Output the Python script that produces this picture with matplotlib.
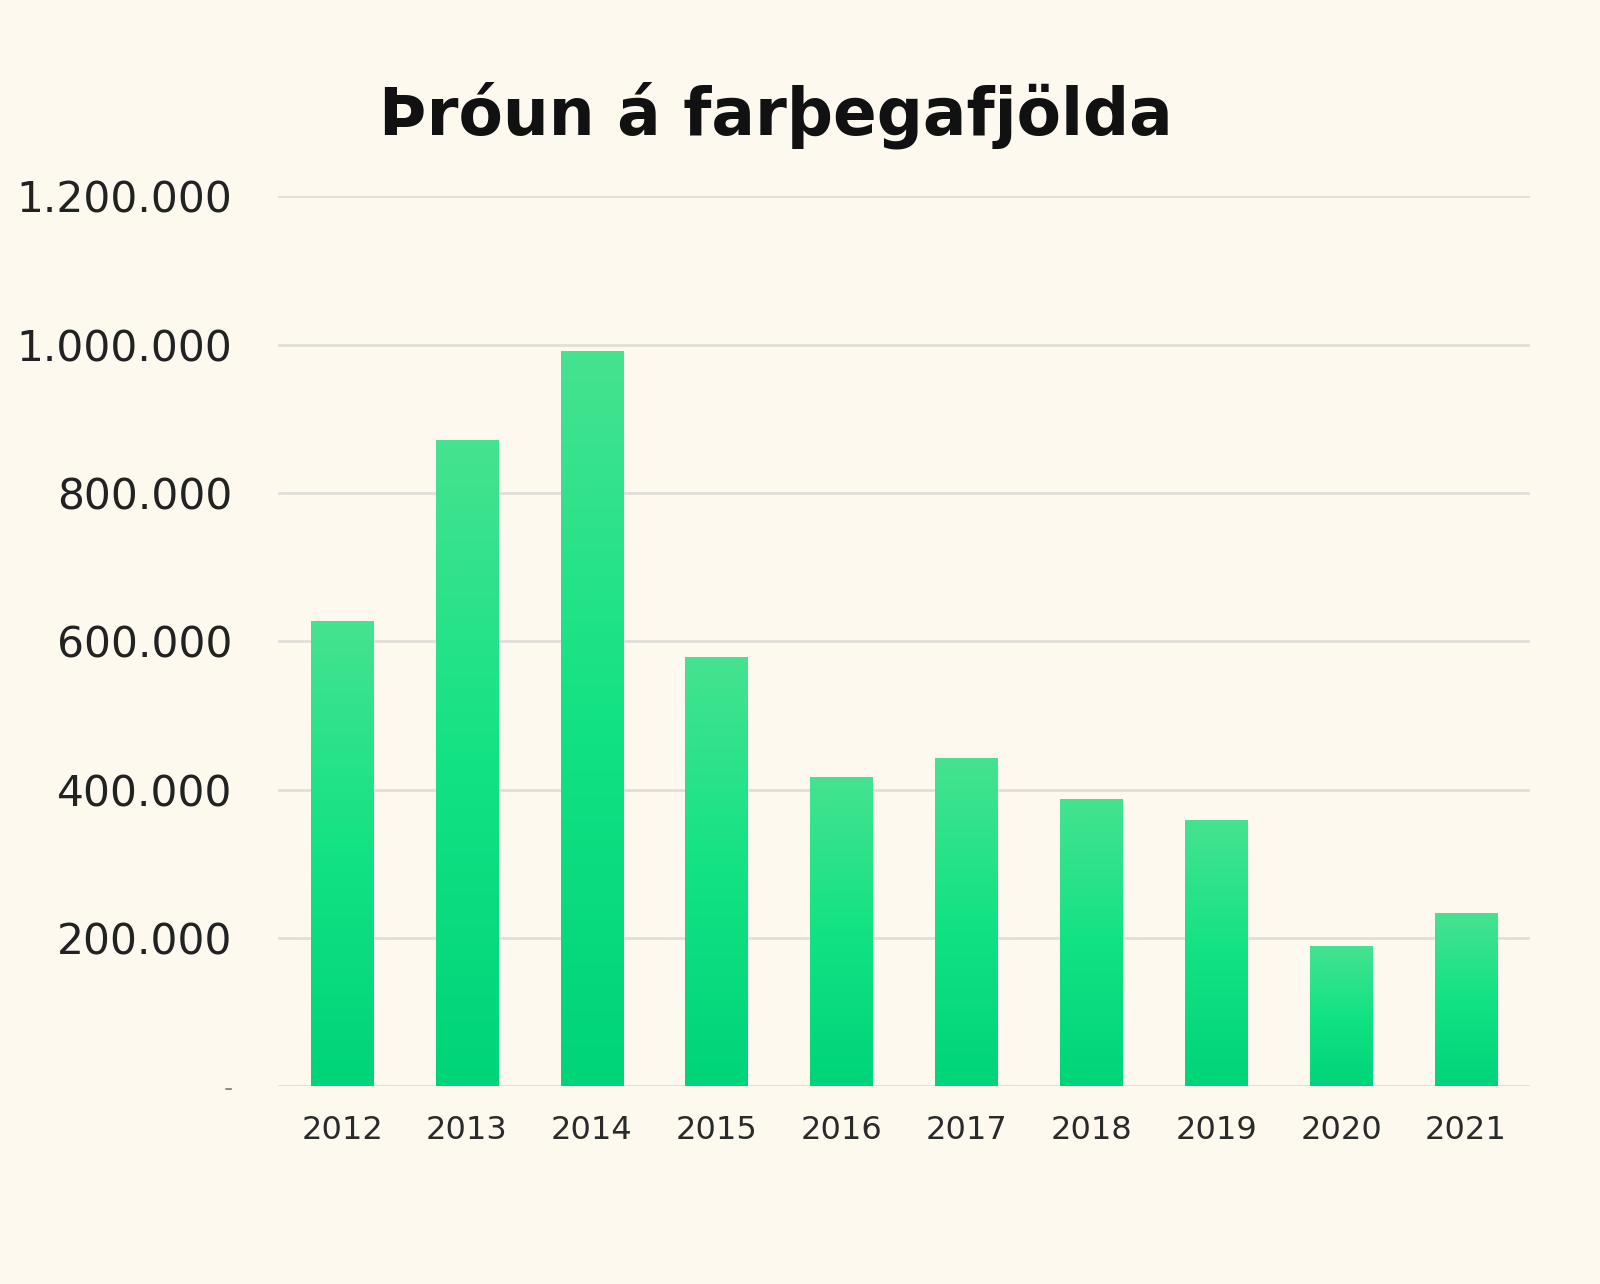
import numpy as np
import matplotlib.pyplot as plt
from matplotlib.colors import LinearSegmentedColormap

years = ["2012", "2013", "2014", "2015", "2016", "2017", "2018", "2019", "2020", "2021"]
passengers = [628000, 871000, 991000, 579000, 417000, 443000, 388000, 359000, 189000, 233000]
y_ticks = [0, 200000, 400000, 600000, 800000, 1000000, 1200000]
title = "Þróun á farþegafjölda"

BG = "#FDF9EE"


def fmt(v):
    if v == 0:
        return "-"
    return f"{v:,.0f}".replace(",", ".")


fig = plt.figure(figsize=(16, 12.84), dpi=100, facecolor=BG)
ax = fig.add_axes([0.174, 0.154, 0.782, 0.693], facecolor=BG)

x = np.arange(len(years))
bars = ax.bar(x, passengers, width=0.5, color="none", edgecolor="none", zorder=3)

# vertical gradient inside each bar
cmap = LinearSegmentedColormap.from_list("g", ["#00D479", "#12E283", "#46E390"])
grad = np.linspace(0, 1, 256).reshape(-1, 1)
for b in bars:
    x0, w, h = b.get_x(), b.get_width(), b.get_height()
    im = ax.imshow(grad, cmap=cmap, origin="lower", aspect="auto",
                   extent=[x0, x0 + w, 0, h], zorder=3)
    im.set_clip_path(b)

ax.set_xlim(-0.51, len(years) - 0.49)
ax.set_ylim(0, 1200000)
ax.set_yticks(y_ticks)
ax.set_yticklabels([fmt(v) for v in y_ticks], fontsize=30.5, color="#222222")
ax.set_xticks(x)
ax.set_xticklabels(years, fontsize=23, color="#2a2a2a")
ax.tick_params(axis="y", length=0, pad=33)
ax.tick_params(axis="x", length=0, pad=21)
ax.yaxis.get_ticklabels()[0].set_fontsize(18)
ax.yaxis.get_ticklabels()[0].set_color("#888888")

ax.grid(axis="y", color="#E2DFDA", linewidth=2, zorder=0)
for s in ax.spines.values():
    s.set_visible(False)

fig.text(0.485, 0.91, title, fontsize=46.5, fontweight="bold", ha="center", va="center", color="#111111")

fig.savefig("out.png", dpi=100, facecolor=BG)
